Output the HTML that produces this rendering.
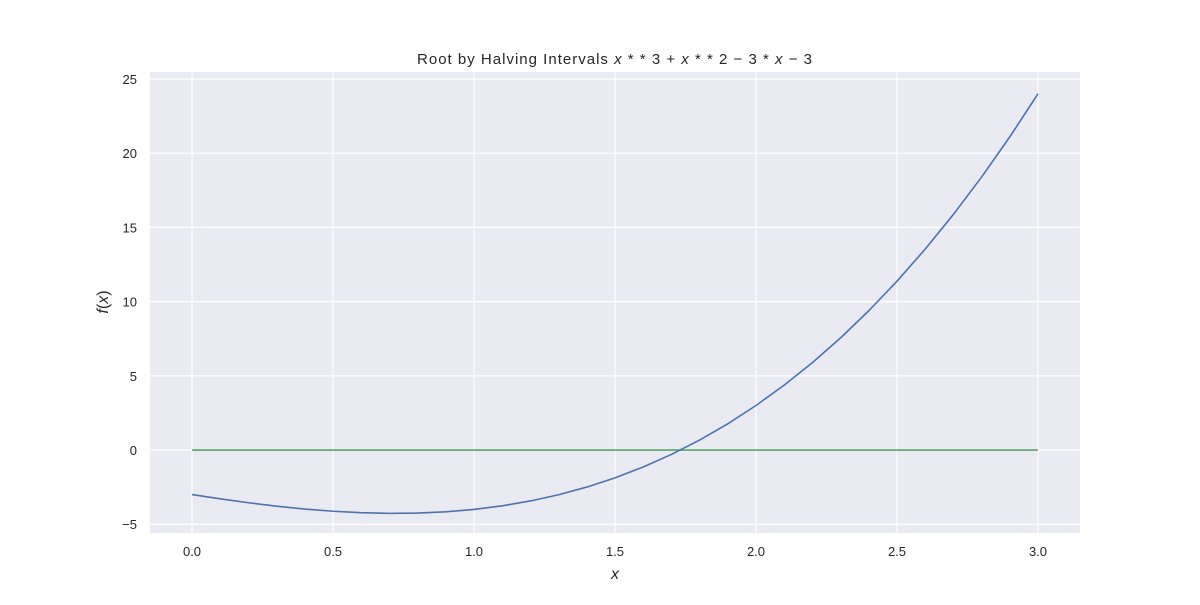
<!DOCTYPE html>
<html><head><meta charset="utf-8"><style>
body{margin:0;background:#fff;font-family:"Liberation Sans",sans-serif}
svg text{font-family:"Liberation Sans",sans-serif;fill:#262626}
</style></head><body>
<svg id="chart" width="1200" height="600" xmlns="http://www.w3.org/2000/svg"></svg>
<script>
const xs=[0,0.1,0.2,0.3,0.4,0.5,0.6,0.7,0.8,0.9,1.0,1.1,1.2,1.3,1.4,1.5,1.6,1.7,1.8,1.9,2.0,2.1,2.2,2.3,2.4,2.5,2.6,2.7,2.8,2.9,3.0];
const fvals=[-3,-3.289,-3.552,-3.783,-3.976,-4.125,-4.224,-4.267,-4.248,-4.161,-4,-3.759,-3.432,-3.013,-2.496,-1.875,-1.144,-0.297,0.672,1.769,3,4.371,5.888,7.557,9.384,11.375,13.536,15.873,18.392,21.099,24];
const zeroX=[0,3];
const zeroY=[0,0];
const xTicks=[0,0.5,1.0,1.5,2.0,2.5,3.0];
const xTickLabels=["0.0","0.5","1.0","1.5","2.0","2.5","3.0"];
const yTicks=[-5,0,5,10,15,20,25];
const yTickLabels=["\u22125","0","5","10","15","20","25"];

const L=150,R=1080,T=72,B=533;
const xmin=-0.149,xmax=3.149,ymin=-5.59,ymax=25.47;
const sx=v=>L+(v-xmin)/(xmax-xmin)*(R-L);
const sy=v=>B-(v-ymin)/(ymax-ymin)*(B-T);
const svg=document.getElementById('chart');
const NS="http://www.w3.org/2000/svg";
function mk(tag,attrs,parent){const e=document.createElementNS(NS,tag);for(const k in attrs)e.setAttribute(k,attrs[k]);(parent||svg).appendChild(e);return e;}

const bg=mk('rect',{x:L,y:T,width:R-L,height:B-T,fill:'#eaeaf2'});



xTicks.forEach((t,i)=>{
  const g=mk('line',{x1:sx(t),x2:sx(t),y1:T,y2:B,stroke:'#fff','stroke-width':1.2});
  
  
  const tx=mk('text',{x:sx(t),y:B+23,'text-anchor':'middle','font-size':13});
  tx.textContent=xTickLabels[i];
  
  
});
yTicks.forEach((t,i)=>{
  const g=mk('line',{x1:L,x2:R,y1:sy(t),y2:sy(t),stroke:'#fff','stroke-width':1.2});
  
  
  const tx=mk('text',{x:L-13,y:sy(t)+5,'text-anchor':'end','font-size':13});
  tx.textContent=yTickLabels[i];
  
  
});

const zl=mk('polyline',{points:zeroX.map((x,i)=>sx(x)+','+sy(zeroY[i])).join(' '),fill:'none',stroke:'#55a868','stroke-width':1.6});



const cl=mk('polyline',{points:xs.map((x,i)=>sx(x)+','+sy(fvals[i])).join(' '),fill:'none',stroke:'#4c72b0','stroke-width':1.6,'stroke-linejoin':'round'});



const title=mk('text',{x:417,y:64,'font-size':15,textLength:395,lengthAdjust:'spacing'});
title.innerHTML='Root by Halving Intervals <tspan font-style="italic">x</tspan> * * 3 + <tspan font-style="italic">x</tspan> * * 2 \u2212 3 * <tspan font-style="italic">x</tspan> \u2212 3';



const xl=mk('text',{x:615,y:579,'text-anchor':'middle','font-size':16,'font-style':'italic'});
xl.textContent='x';



const yl=mk('text',{x:108,y:302,'text-anchor':'middle','font-size':16,transform:'rotate(-90 108 302)'});
yl.innerHTML='<tspan font-style="italic">f</tspan>(<tspan font-style="italic">x</tspan>)';


</script>
</body></html>
